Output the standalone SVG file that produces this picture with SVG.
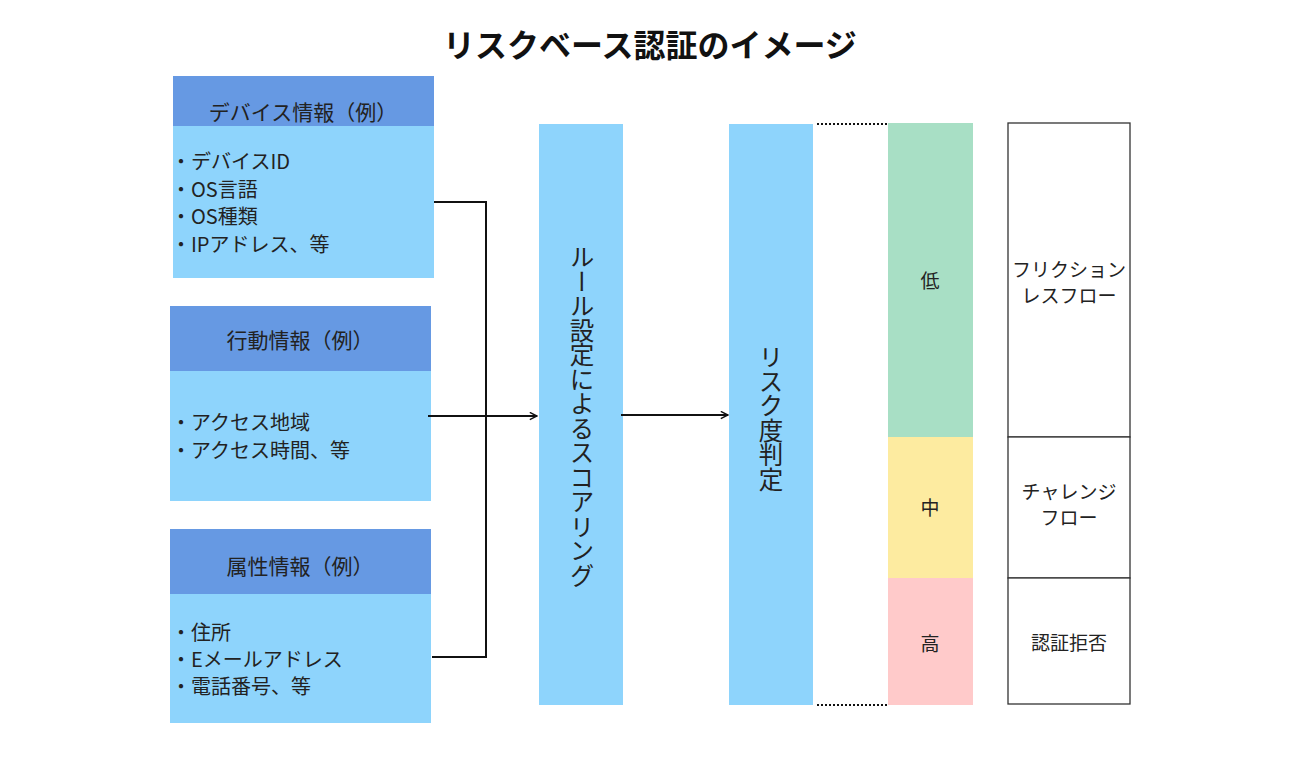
<svg xmlns="http://www.w3.org/2000/svg" width="1300" height="760" viewBox="0 0 1300 760">
<style>
text{font-family:"Noto Sans CJK JP","Noto Sans",sans-serif;fill:#222}
.title{font-size:32px;font-weight:bold;fill:#111}
.hdr{fill:#6699E3}
.body{fill:#8ED4FC}
.ht{font-size:21px;text-anchor:middle}
.bt{font-size:20px}
.vt{font-size:24.5px;writing-mode:vertical-rl;text-anchor:middle}
.lv{font-size:19px;text-anchor:middle}
.out{fill:#fff;stroke:#333;stroke-width:1.3}
.conn{stroke:#111;stroke-width:2;fill:none}
.dot{stroke:#111;stroke-width:2;stroke-dasharray:2 2;fill:none}
</style>
<defs>
<marker id="arr" viewBox="0 0 10 10" refX="9" refY="5" markerWidth="9" markerHeight="9" markerUnits="userSpaceOnUse" orient="auto">
<path d="M1,1 L9,5 L1,9" fill="none" stroke="#111" stroke-width="1.6"/>
</marker>
</defs>
<rect width="1300" height="760" fill="#fff"/>
<text class="title" x="650" y="57" text-anchor="middle">リスクベース認証のイメージ</text>

<g id="device">
<rect class="hdr" x="173" y="76" width="261" height="50"/>
<rect class="body" x="173" y="126" width="261" height="152"/>
<text class="ht" x="303" y="120">デバイス情報（例）</text>
<text class="bt" x="171" y="169">・デバイスID</text>
<text class="bt" x="171" y="197">・OS言語</text>
<text class="bt" x="171" y="224">・OS種類</text>
<text class="bt" x="171" y="252">・IPアドレス、等</text>
</g>

<g id="behavior">
<rect class="hdr" x="170" y="306" width="261" height="65"/>
<rect class="body" x="170" y="371" width="261" height="130"/>
<text class="ht" x="300" y="348">行動情報（例）</text>
<text class="bt" x="171" y="430">・アクセス地域</text>
<text class="bt" x="171" y="458">・アクセス時間、等</text>
</g>

<g id="attribute">
<rect class="hdr" x="170" y="529" width="261" height="65"/>
<rect class="body" x="170" y="594" width="261" height="129"/>
<text class="ht" x="300" y="574">属性情報（例）</text>
<text class="bt" x="171" y="640">・住所</text>
<text class="bt" x="171" y="667">・Eメールアドレス</text>
<text class="bt" x="171" y="694">・電話番号、等</text>
</g>

<g id="scoring">
<rect class="body" x="539" y="124" width="84" height="581"/>
<text class="vt" x="582" y="416">ルール設定によるスコアリング</text>
</g>

<g id="risk">
<rect class="body" x="729" y="124" width="84" height="581"/>
<text class="vt" x="771" y="418">リスク度判定</text>
</g>

<g id="low">
<rect x="888" y="123" width="85" height="314" fill="#A8DFC5"/>
<text class="lv" x="930" y="288">低</text>
</g>
<g id="mid">
<rect x="888" y="437" width="85" height="141" fill="#FDEBA0"/>
<text class="lv" x="930" y="515">中</text>
</g>
<g id="high">
<rect x="888" y="578" width="85" height="127" fill="#FFCACA"/>
<text class="lv" x="930" y="651">高</text>
</g>

<g id="frictionless">
<rect class="out" x="1008" y="123" width="122" height="314"/>
<text class="lv" x="1069" y="277">フリクション</text>
<text class="lv" x="1069" y="303">レスフロー</text>
</g>
<g id="challenge">
<rect class="out" x="1008" y="437" width="122" height="141"/>
<text class="lv" x="1069" y="499">チャレンジ</text>
<text class="lv" x="1069" y="525">フロー</text>
</g>
<g id="reject">
<rect class="out" x="1008" y="578" width="122" height="126"/>
<text class="lv" x="1069" y="650">認証拒否</text>
</g>

<g id="connectors">
<polyline class="conn" points="434,202 486,202 486,657 432,657"/>
<line class="conn" x1="428" y1="416" x2="537" y2="416" marker-end="url(#arr)"/>
<line class="conn" x1="621" y1="415" x2="728" y2="415" marker-end="url(#arr)"/>
<line class="dot" x1="817" y1="124" x2="887" y2="124"/>
<line class="dot" x1="817" y1="705" x2="887" y2="705"/>
</g>
</svg>
